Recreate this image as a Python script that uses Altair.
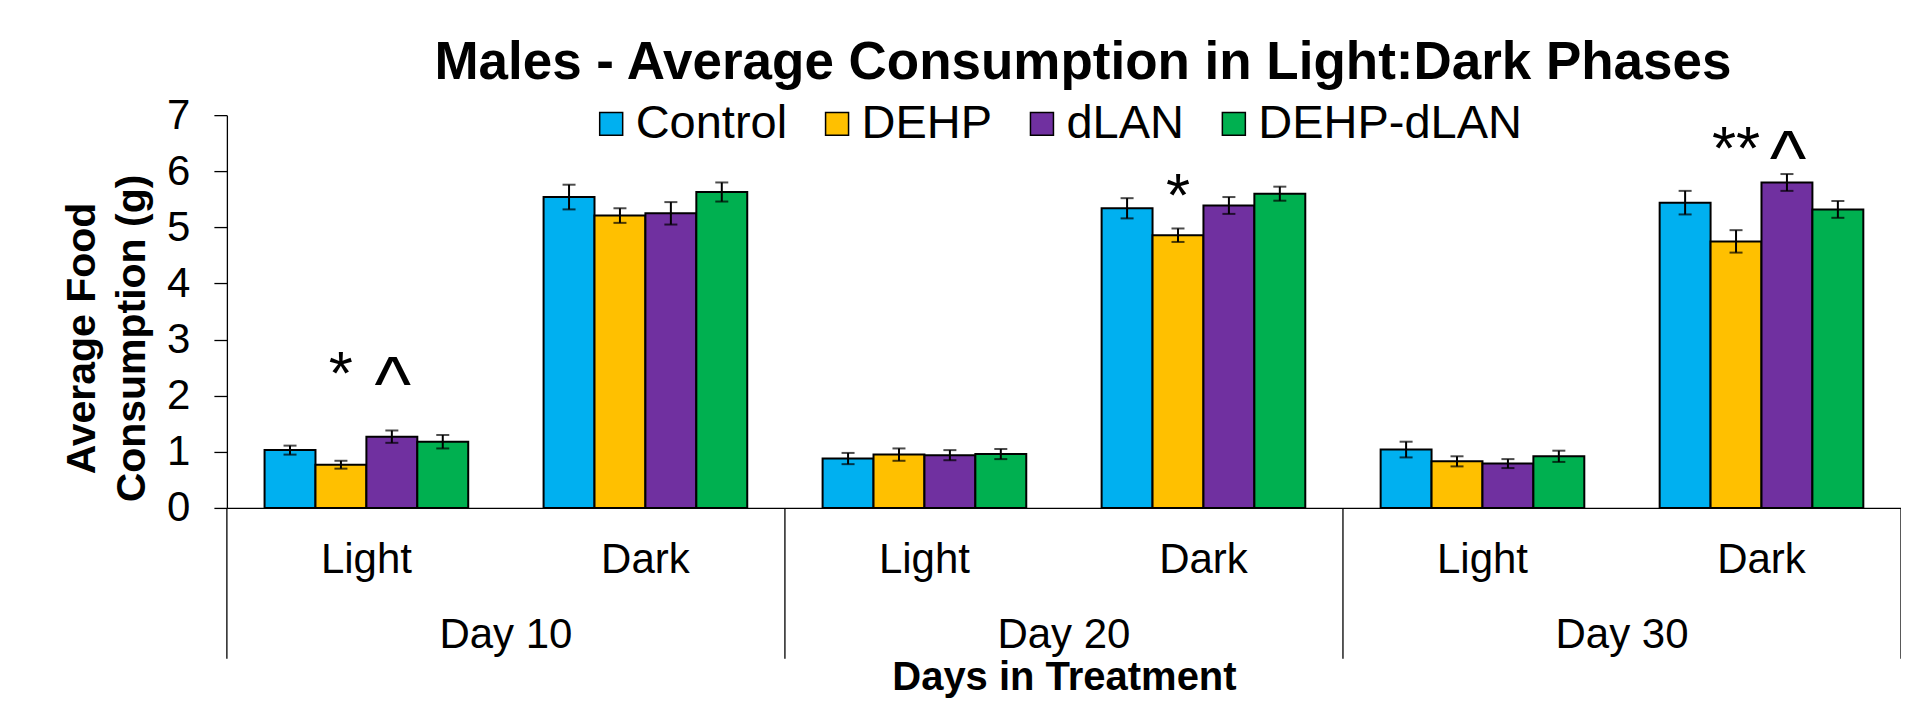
import altair as alt
import pandas as pd

# ---------------- data ----------------
days = ["Day 10", "Day 20", "Day 30"]
phases = ["Light", "Dark"]
groups = ["Control", "DEHP", "dLAN", "DEHP-dLAN"]
colors = ["#00B0F0", "#FFC000", "#7030A0", "#00B050"]

# order: D10 Light, D10 Dark, D20 Light, D20 Dark, D30 Light, D30 Dark
control_mean = [1.03, 5.54, 0.88, 5.34, 1.04, 5.44]
dehp_mean = [0.77, 5.21, 0.95, 4.86, 0.83, 4.75]
dlan_mean = [1.27, 5.25, 0.94, 5.39, 0.79, 5.80]
dehp_dlan_mean = [1.18, 5.63, 0.96, 5.60, 0.92, 5.32]

control_sem = [0.08, 0.22, 0.10, 0.18, 0.14, 0.21]
dehp_sem = [0.07, 0.13, 0.11, 0.12, 0.09, 0.20]
dlan_sem = [0.11, 0.20, 0.09, 0.15, 0.08, 0.15]
dehp_dlan_sem = [0.12, 0.17, 0.09, 0.125, 0.10, 0.15]

star_cat = ["Day 10|Light", "Day 20|Dark", "Day 30|Dark"]
star_group = ["DEHP", "DEHP", "DEHP"]
star_y = [2.55, 5.71, 6.56]
star_text = ["*", "*", "**"]

caret_cat = ["Day 10|Light", "Day 30|Dark"]
caret_group = ["dLAN", "dLAN"]
caret_y = [2.46, 6.49]
caret_text = ["^", "^"]

# ---------------- tables ----------------
cats = [f"{d}|{p}" for d in days for p in phases]
means = dict(zip(groups, [control_mean, dehp_mean, dlan_mean, dehp_dlan_mean]))
sems = dict(zip(groups, [control_sem, dehp_sem, dlan_sem, dehp_dlan_sem]))
rows = []
for g in groups:
    for i, c in enumerate(cats):
        m, s = means[g][i], sems[g][i]
        rows.append({"cat": c, "group": g, "mean": m, "lo": m - s, "hi": m + s})
df = pd.DataFrame(rows)
star_df = pd.DataFrame({"cat": star_cat, "group": star_group, "mean": star_y, "txt": star_text})
caret_df = pd.DataFrame({"cat": caret_cat, "group": caret_group, "mean": caret_y, "txt": caret_text})
day_df = pd.DataFrame({"cat": [f"{d}|Light" for d in days], "day": days})
div_df = pd.DataFrame({"cat": [f"{d}|Light" for d in days]})
end_df = pd.DataFrame({"cat": [cats[-1]]})

# ---------------- layout ----------------
W, H = 1675, 393
FONT = "Liberation Sans"

xscale = alt.Scale(domain=cats, paddingInner=0, paddingOuter=0)
offscale = alt.Scale(domain=groups, paddingInner=0, paddingOuter=0.74)
yscale = alt.Scale(domain=[0, 7], nice=False, zero=True)

x_axis = alt.Axis(
    labelExpr="split(datum.label, '|')[1]",
    labelAngle=0,
    labelFontSize=42,
    labelFont=FONT,
    labelColor="black",
    labelPadding=32,
    labelLimit=400,
    ticks=False,
    domainColor="black",
    domainWidth=1.3,
    titleFontSize=40,
    titleFont=FONT,
    titleFontWeight="bold",
    titleColor="black",
    titleBaseline="alphabetic",
    titleY=182,
    titleX=W / 2,
    titleAlign="center",
)
y_axis = alt.Axis(
    values=[0, 1, 2, 3, 4, 5, 6, 7],
    grid=False,
    labelFontSize=42,
    labelFont=FONT,
    labelColor="black",
    labelPadding=24,
    tickSize=13,
    tickColor="black",
    tickWidth=1.3,
    domainColor="black",
    domainWidth=1.3,
    titleFontSize=41,
    titleFont=FONT,
    titleFontWeight="bold",
    titleColor="black",
    titleAngle=270,
    titleAlign="center",
    titleBaseline="alphabetic",
    titleLineHeight=50,
    titleX=-132,
    titleY=223,
)
X_TITLE = "Days in Treatment"
Y_TITLE = ["Average Food", "Consumption (g)"]


def X(**kw):
    return alt.X("cat:N", scale=xscale, sort=cats, axis=x_axis, title=X_TITLE, **kw)


def Y(field):
    return alt.Y(field, scale=yscale, axis=y_axis, title=Y_TITLE)


def XO():
    return alt.XOffset("group:N", scale=offscale, sort=groups)


bars = alt.Chart(df).mark_bar(stroke="black", strokeWidth=2).encode(
    x=X(),
    xOffset=XO(),
    y=Y("mean:Q"),
    color=alt.Color(
        "group:N",
        scale=alt.Scale(domain=groups, range=colors),
        sort=groups,
        legend=alt.Legend(
            orient="none",
            legendX=361,
            legendY=-15,
            direction="horizontal",
            title=None,
            symbolType="square",
            symbolSize=529,
            symbolStrokeColor="black",
            symbolStrokeWidth=1.5,
            symbolOpacity=1,
            labelFontSize=47,
            labelFont=FONT,
            labelColor="black",
            labelOffset=1,
            labelLimit=500,
            columnPadding=26,
            padding=0,
        ),
    ),
)

err = alt.Chart(df).mark_rule(color="black", strokeWidth=2).encode(
    x=X(), xOffset=XO(), y=Y("lo:Q"), y2="hi:Q",
)
cap_hi = alt.Chart(df).mark_tick(color="black", thickness=2, size=13, orient="horizontal").encode(
    x=X(), xOffset=XO(), y=Y("hi:Q"),
)
cap_lo = alt.Chart(df).mark_tick(color="black", thickness=2, size=13, orient="horizontal").encode(
    x=X(), xOffset=XO(), y=Y("lo:Q"),
)

stars = alt.Chart(star_df).mark_text(fontSize=62, font=FONT, color="black", dy=10).encode(
    x=X(), xOffset=XO(), y=Y("mean:Q"), text="txt:N",
)
carets = alt.Chart(caret_df).mark_text(fontSize=78, font=FONT, color="black", dy=18, dx=1).encode(
    x=X(), xOffset=XO(), y=Y("mean:Q"), text="txt:N",
)

daylab = alt.Chart(day_df).mark_text(fontSize=42, font=FONT, color="black", baseline="alphabetic").encode(
    x=X(bandPosition=1), y=alt.value(H + 140), text="day:N",
)

div = alt.Chart(div_df).mark_rule(color="black", strokeWidth=1.3).encode(
    x=X(bandPosition=0), y=alt.value(H), y2=alt.value(H + 151),
)
div_end = alt.Chart(end_df).mark_rule(color="black", strokeWidth=1.3).encode(
    x=X(bandPosition=1), y=alt.value(H), y2=alt.value(H + 151),
)

chart = (
    alt.layer(bars, err, cap_hi, cap_lo, stars, carets, daylab, div, div_end)
    .properties(
        width=W,
        height=H,
        background="white",
        autosize=alt.AutoSizeParams(type="none"),
        padding={"left": 219, "top": 107, "right": 0, "bottom": 191},
        title=alt.TitleParams(
            "Males - Average Consumption in Light:Dark Phases",
            fontSize=53,
            font=FONT,
            fontWeight="bold",
            color="black",
            anchor="middle",
            dx=19,
        ),
    )
    .configure_view(stroke=None)
)

chart.save("out.html", embed_options={"renderer": "svg", "actions": False})
